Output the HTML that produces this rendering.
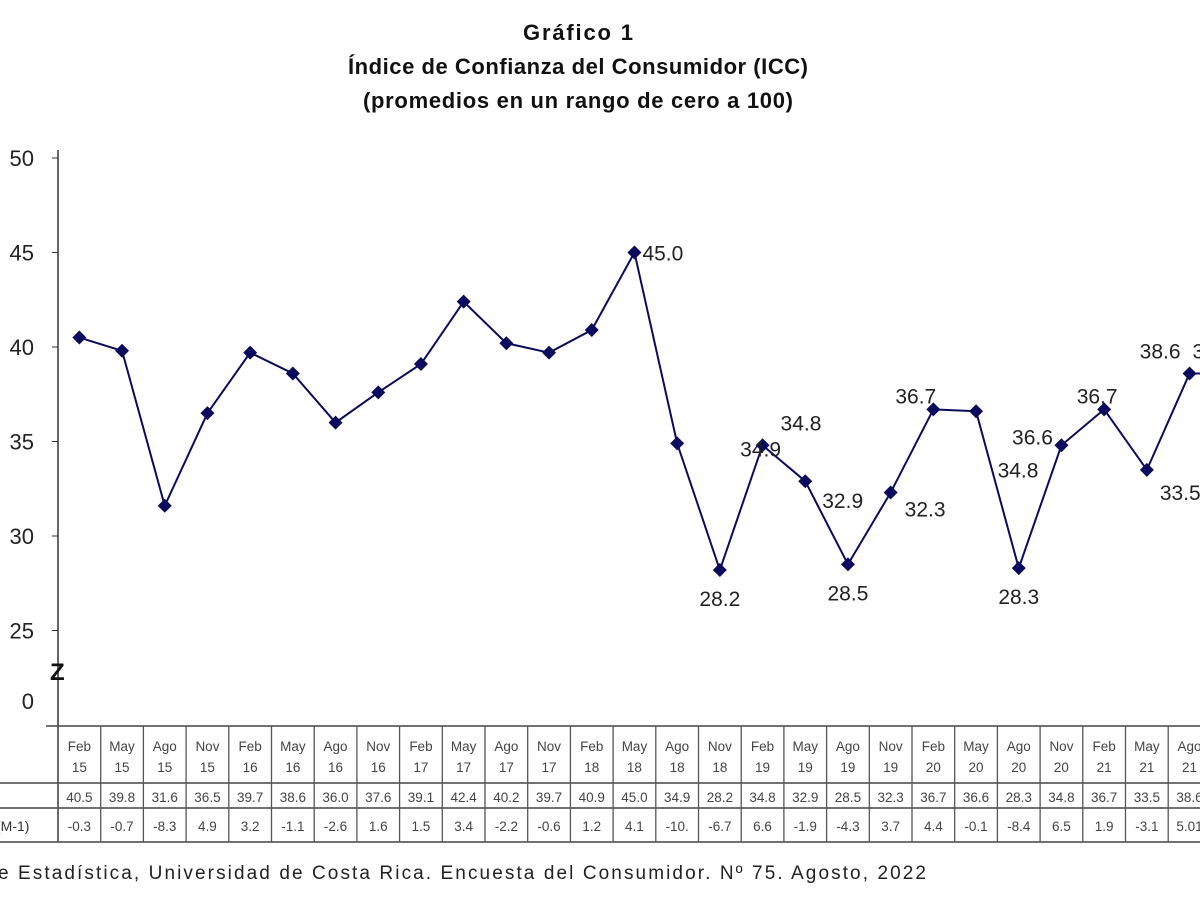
<!DOCTYPE html>
<html><head><meta charset="utf-8"><style>
html,body{margin:0;padding:0;background:#fff;width:1200px;height:900px;overflow:hidden}
svg{display:block;font-family:"Liberation Sans",Arial,sans-serif}
</style></head><body>
<svg id="chart" width="1200" height="900">
<g font-weight="bold" font-size="22" text-anchor="middle" fill="#111">
<text x="578" y="40" textLength="110">Gráfico 1</text>
<text x="578" y="74" textLength="460">Índice de Confianza del Consumidor (ICC)</text>
<text x="578" y="108" textLength="430">(promedios en un rango de cero a 100)</text>
</g>
<g id="yaxis"></g>
<g id="table"></g>
<g id="series"></g>
<text x="-2" y="879" font-size="19" fill="#222" textLength="928">e Estadística, Universidad de Costa Rica. Encuesta del Consumidor. Nº 75. Agosto, 2022</text>
</svg>
<script>
const categories=["Feb 15","May 15","Ago 15","Nov 15","Feb 16","May 16","Ago 16","Nov 16","Feb 17","May 17","Ago 17","Nov 17","Feb 18","May 18","Ago 18","Nov 18","Feb 19","May 19","Ago 19","Nov 19","Feb 20","May 20","Ago 20","Nov 20","Feb 21","May 21","Ago 21"];
const values=[40.5,39.8,31.6,36.5,39.7,38.6,36.0,37.6,39.1,42.4,40.2,39.7,40.9,45.0,34.9,28.2,34.8,32.9,28.5,32.3,36.7,36.6,28.3,34.8,36.7,33.5,38.6];
const changes=["-0.3","-0.7","-8.3","4.9","3.2","-1.1","-2.6","1.6","1.5","3.4","-2.2","-0.6","1.2","4.1","-10.","-6.7","6.6","-1.9","-4.3","3.7","4.4","-0.1","-8.4","6.5","1.9","-3.1","5.01"];
const yTicks=[25,30,35,40,45,50];
const labelled=[13,14,15,16,17,18,19,20,21,22,23,24,25,26];
const NS="http://www.w3.org/2000/svg";
const x0=58,colW=42.7;
function xPos(i){return x0+(i+0.5)*colW;}
function yPos(v){return 347-(v-40)*18.9;}
function mk(tag,attrs,parent,txt){const e=document.createElementNS(NS,tag);for(const k in attrs)e.setAttribute(k,attrs[k]);if(txt!==undefined)e.textContent=txt;parent.appendChild(e);return e;}
const ya=document.getElementById('yaxis');
mk('line',{x1:x0,y1:150,x2:x0,y2:842,stroke:'#333','stroke-width':1.5},ya);
yTicks.forEach(t=>{const e=mk('text',{x:34,y:yPos(t)+8,'font-size':22,'text-anchor':'end',fill:'#222'},ya,String(t));


const tk=mk('line',{x1:x0-6,y1:yPos(t),x2:x0,y2:yPos(t),stroke:'#333'},ya);

});
const z=mk('text',{x:34,y:709,'font-size':22,'text-anchor':'end',fill:'#222'},ya,'0');


const br=mk('text',{x:50,y:680,'font-size':24,'font-weight':'bold',fill:'#111'},ya,'Z');


const tb=document.getElementById('table');
[726,783,808,842].forEach(y=>{const l=mk('line',{x1:y===726?46:0,y1:y,x2:1200,y2:y,stroke:'#444','stroke-width':1.5},tb);

});
for(let i=0;i<=categories.length;i++){const x=x0+i*colW;const l=mk('line',{x1:x,y1:726,x2:x,y2:842,stroke:'#555','stroke-width':1.3},tb);

}
const rl=mk('text',{x:-4,y:831,'font-size':14,fill:'#333'},tb,'(M-1)');


categories.forEach((c,i)=>{const [m,y]=c.split(' ');const cx=xPos(i);
const g=mk('text',{x:cx,y:751,'font-size':13.5,'text-anchor':'middle',fill:'#444'},tb);


mk('tspan',{x:cx,dy:0},g,m);mk('tspan',{x:cx,dy:21},g,y);
const v=mk('text',{x:cx,y:802,'font-size':13.5,'text-anchor':'middle',fill:'#444'},tb,values[i].toFixed(1));


const d=mk('text',{x:cx,y:831,'font-size':13.5,'text-anchor':'middle',fill:'#444'},tb,changes[i]);

});
const s=document.getElementById('series');
const last=values.length-1;
let pts=values.map((v,i)=>xPos(i)+','+yPos(v)).join(' ')+' 1210,'+yPos(values[last]);
const pl=mk('polyline',{points:pts,fill:'none',stroke:'#0b0b5e','stroke-width':2},s);


values.forEach((v,i)=>{const x=xPos(i),y=yPos(v);
const p=mk('polygon',{points:`${x},${y-7} ${x+7},${y} ${x},${y+7} ${x-7},${y}`,fill:'#0b0b5e'},s);

});
const off={13:[8,8,'start'],14:[63,13,'start'],15:[0,36,'middle'],16:[18,-15,'start'],17:[17,27,'start'],18:[0,36,'middle'],19:[14,24,'start'],20:[-38,-6,'start'],21:[36,33,'start'],22:[0,36,'middle'],23:[-23,32,'end'],24:[-7,-6,'middle'],25:[13,30,'start'],26:[-9,-15,'end']};
labelled.forEach(i=>{const o=off[i];
const t=mk('text',{x:xPos(i)+o[0],y:yPos(values[i])+o[1],'font-size':21,'text-anchor':o[2],fill:'#222'},s,values[i].toFixed(1));

});
const cut=mk('text',{x:xPos(last)+3,y:yPos(values[last])-15,'font-size':21,fill:'#222'},s,values[last].toFixed(1));


</script>
</body></html>
